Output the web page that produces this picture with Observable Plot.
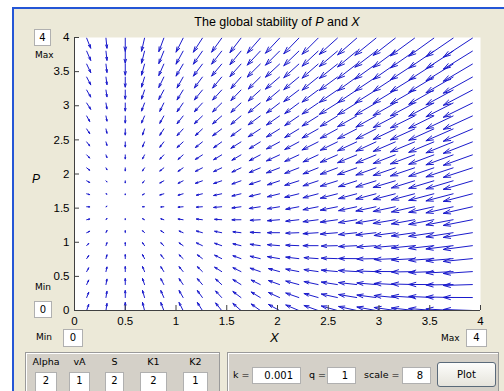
<!DOCTYPE html>
<html><head><meta charset="utf-8">
<script src="https://cdn.jsdelivr.net/npm/d3@7"></script>
<script src="https://cdn.jsdelivr.net/npm/@observablehq/plot@0.6"></script>
<style>
html,body{margin:0;padding:0;background:#fff;}
body{width:504px;height:391px;overflow:hidden;position:relative;font-family:"Liberation Sans",Arial,sans-serif;}
#fig{position:absolute;left:12px;top:7px;width:492px;height:384px;background:#ECE9D8;border-left:2px solid #2456d6;border-top:2px solid #2456d6;box-sizing:border-box;}
#chart{position:absolute;left:0;top:0;}
.lbl{position:absolute;font-size:10px;color:#000;white-space:nowrap;font-family:"DejaVu Sans",Arial,sans-serif;}
.box{position:absolute;background:#fff;border:1px solid #b0b0b0;box-sizing:border-box;font-size:10px;line-height:15px;text-align:center;font-family:"DejaVu Sans",Arial,sans-serif;}
.panel{position:absolute;background:#d4d0c8;border:1px solid #9a9a9a;box-shadow:inset 1px 1px 0 #fff;box-sizing:border-box;}
.btn{position:absolute;background:linear-gradient(#fdfdfb,#e6e4dc);border:1px solid #5a6a7a;border-radius:3px;box-sizing:border-box;font-size:10px;text-align:center;font-family:"DejaVu Sans",Arial,sans-serif;}
.ttl{position:absolute;font-size:12.5px;white-space:nowrap;transform:translateX(-50%);}
.ax{position:absolute;font-size:13px;font-style:italic;}
</style></head>
<body>
<div id="fig"></div>
<div id="chart"></div>
<script>
// grid of the quiver plot
const Xgrid = [0.12,0.31,0.50,0.69,0.88,1.07,1.26,1.45,1.64,1.83,2.02,2.21,2.40,2.59,2.78,2.97,3.16,3.35,3.54,3.73,3.92];
const Pgrid = [0,0.19,0.38,0.57,0.76,0.95,1.14,1.33,1.52,1.71,1.90,2.09,2.28,2.47,2.66,2.85,3.04,3.23,3.42,3.61,3.80,3.99];
// dX/dt read per row (row = P value)
const dX = [
[2,1,0,-2,-3,-4,-5,-6,-8,-9,-11,-13,-14,-16,-18,-19,-21,-23,-25,-27,-29],
[2,1,0,-2,-3,-4,-5,-6,-8,-9,-11,-13,-14,-16,-18,-19,-21,-23,-25,-27,-29],
[2,1,0,-2,-3,-4,-5,-6,-8,-9,-11,-13,-14,-16,-18,-19,-21,-23,-25,-27,-29],
[2,1,0,-2,-3,-4,-5,-7,-8,-10,-11,-13,-14,-16,-18,-19,-21,-23,-25,-27,-29],
[2,1,0,-2,-3,-4,-5,-7,-8,-10,-12,-13,-14,-16,-18,-19,-21,-23,-25,-27,-29],
[2,1,0,-2,-3,-4,-6,-7,-8,-10,-12,-13,-15,-16,-18,-19,-21,-23,-25,-27,-29],
[3,1,0,-2,-3,-4,-6,-7,-8,-10,-12,-13,-15,-17,-18,-20,-21,-23,-25,-27,-29],
[3,1,0,-2,-3,-5,-6,-7,-9,-10,-12,-13,-15,-17,-18,-20,-22,-23,-25,-27,-29],
[3,1,0,-2,-3,-5,-6,-8,-9,-11,-12,-13,-15,-17,-18,-20,-22,-23,-25,-27,-29],
[3,1,0,-2,-4,-5,-6,-8,-9,-11,-12,-14,-15,-17,-18,-20,-22,-23,-25,-27,-29],
[3,1,0,-2,-4,-5,-7,-8,-9,-11,-12,-14,-15,-17,-18,-20,-22,-23,-25,-27,-29],
[3,1,0,-2,-4,-5,-7,-8,-9,-11,-13,-14,-15,-17,-19,-20,-22,-24,-25,-27,-29],
[3,1,0,-2,-4,-5,-7,-8,-9,-11,-13,-14,-15,-17,-19,-20,-22,-24,-25,-27,-29],
[3,1,0,-2,-4,-6,-7,-8,-10,-11,-13,-14,-16,-17,-19,-20,-22,-24,-25,-27,-29],
[3,1,0,-2,-4,-6,-7,-9,-10,-12,-13,-14,-16,-17,-19,-20,-22,-24,-25,-27,-29],
[3,1,0,-3,-4,-6,-8,-9,-10,-12,-13,-14,-16,-17,-19,-20,-22,-24,-25,-27,-29],
[4,1,0,-3,-4,-6,-8,-9,-10,-12,-13,-14,-16,-18,-19,-21,-22,-24,-25,-27,-29],
[4,1,0,-3,-5,-6,-8,-9,-10,-12,-13,-15,-16,-18,-19,-21,-22,-24,-25,-27,-29],
[4,1,0,-3,-5,-6,-8,-9,-10,-12,-14,-15,-16,-18,-19,-21,-22,-24,-25,-27,-29],
[4,1,0,-3,-5,-7,-9,-10,-11,-13,-14,-15,-16,-18,-19,-21,-22,-24,-25,-27,-29],
[4,1,0,-3,-5,-7,-9,-10,-11,-13,-14,-15,-16,-18,-19,-21,-22,-24,-25,-27,-29],
[4,1,0,-3,-5,-7,-9,-10,-11,-13,-14,-15,-16,-18,-19,-21,-22,-24,-25,-27,-29]
];
// dP/dt read per row
const dP = [
[6,7,8,8,8,8,8,7.5,7,6.5,6,5.5,5,4.5,4,3.5,3,2.5,2,1.5,1],
[5.2,6.2,7,7,7,7,7,6.5,6,5.5,5,4.5,4,3.5,3,2.5,2,1.5,1.1,0.6,0.1],
[4.5,5.4,6,6,6,5.9,5.9,5.5,5,4.5,4,3.5,3,2.5,2,1.6,1.1,0.6,0.1,-0.4,-0.9],
[3.7,4.6,5,5,4.9,4.9,4.9,4.4,3.9,3.4,3,2.5,2,1.5,1.1,0.6,0.1,-0.4,-0.9,-1.4,-1.9],
[3,3.8,4,4,3.9,3.8,3.8,3.4,2.9,2.4,2,1.5,1,0.5,0.1,-0.4,-0.9,-1.3,-1.8,-2.3,-2.8],
[2.2,3,3,3,2.9,2.8,2.8,2.4,1.9,1.4,1,0.5,0,-0.4,-0.9,-1.4,-1.8,-2.3,-2.8,-3.3,-3.8],
[1.4,2.2,2,2,1.9,1.7,1.7,1.4,0.9,0.4,0,-0.5,-1,-1.4,-1.9,-2.3,-2.8,-3.3,-3.7,-4.2,-4.7],
[0.7,1.3,1,1,0.9,0.7,0.7,0.4,-0.1,-0.6,-1,-1.5,-2,-2.4,-2.9,-3.3,-3.7,-4.2,-4.7,-5.2,-5.7],
[-0.1,0.5,0,0,-0.2,-0.4,-0.4,-0.7,-1.2,-1.7,-2,-2.5,-3,-3.4,-3.9,-4.3,-4.7,-5.2,-5.6,-6.1,-6.6],
[-0.8,-0.3,-1,-1,-1.2,-1.4,-1.4,-1.7,-2.2,-2.7,-3,-3.5,-4,-4.4,-4.8,-5.3,-5.7,-6.1,-6.6,-7.1,-7.6],
[-1.6,-1.1,-2,-2,-2.2,-2.5,-2.5,-2.7,-3.2,-3.7,-4,-4.5,-5,-5.4,-5.8,-6.2,-6.6,-7.1,-7.5,-8,-8.5],
[-2.4,-1.9,-3,-3,-3.2,-3.5,-3.5,-3.7,-4.2,-4.7,-5,-5.5,-6,-6.4,-6.8,-7.2,-7.6,-8.1,-8.5,-9,-9.5],
[-3.1,-2.7,-4,-4,-4.3,-4.5,-4.5,-4.8,-5.3,-5.8,-6,-6.5,-7,-7.4,-7.8,-8.2,-8.6,-9,-9.4,-9.9,-10.4],
[-3.9,-3.5,-5,-5,-5.3,-5.6,-5.6,-5.8,-6.3,-6.8,-7,-7.5,-8,-8.3,-8.8,-9.2,-9.5,-10,-10.4,-10.9,-11.4],
[-4.6,-4.3,-6,-6,-6.3,-6.6,-6.6,-6.8,-7.3,-7.8,-8,-8.5,-9,-9.3,-9.8,-10.1,-10.5,-10.9,-11.3,-11.8,-12.3],
[-5.4,-5.1,-7,-7,-7.3,-7.7,-7.7,-7.8,-8.3,-8.8,-9,-9.5,-10,-10.3,-10.7,-11.1,-11.5,-11.9,-12.3,-12.8,-13.3],
[-6.2,-5.9,-8,-8,-8.3,-8.7,-8.7,-8.8,-9.3,-9.8,-10,-10.5,-11,-11.3,-11.7,-12.1,-12.4,-12.9,-13.2,-13.7,-14.2],
[-6.9,-6.7,-9,-9,-9.4,-9.8,-9.8,-9.9,-10.4,-10.9,-11,-11.5,-12,-12.3,-12.7,-13.1,-13.4,-13.8,-14.2,-14.7,-15.2],
[-7.7,-7.5,-10,-10,-10.4,-10.8,-10.8,-10.9,-11.4,-11.9,-12,-12.5,-13,-13.3,-13.7,-14,-14.4,-14.8,-15.1,-15.6,-16.1],
[-8.4,-8.3,-11,-11,-11.4,-11.9,-11.9,-11.9,-12.4,-12.9,-13,-13.5,-14,-14.3,-14.7,-15,-15.3,-15.7,-16.1,-16.6,-17.1],
[-9.2,-9.2,-12,-12,-12.4,-12.9,-12.9,-12.9,-13.4,-13.9,-14,-14.5,-15,-15.3,-15.7,-16,-16.3,-16.7,-17,-17.5,-18],
[-10,-10,-13,-13,-13.4,-13.9,-13.9,-13.9,-14.4,-14.9,-15,-15.5,-16,-16.2,-16.6,-17,-17.2,-17.6,-18,-18.5,-19]
];
const xTicks = [0,0.5,1,1.5,2,2.5,3,3.5,4];
const xTickLabels = ["0","0.5","1","1.5","2","2.5","3","3.5","4"];
const yTicks = [0,0.5,1,1.5,2,2.5,3,3.5,4];
const yTickLabels = ["0","0.5","1","1.5","2","2.5","3","3.5","4"];
const titleParts = ["The global stability of ", "P", " and ", "X"];
const xLabel = "X", yLabel = "P";
const limits = {xMin:"0", xMax:"4", yMin:"0", yMax:"4"};
const paramNames = ["Alpha","vA","S","K1","K2"];
const paramValues = ["2","1","2","2","1"];
const runNames = ["k =","q =","scale ="];
const runValues = ["0.001","1","8"];
const buttonLabel = "Plot";

// quiver arrow scale (data units per rate unit)
const quiverScale = {x: 0.00985, y: 0.01465};

const arrows = [];
Pgrid.forEach((p, j) => Xgrid.forEach((x, i) => {
  arrows.push({x, y: p, x2: x + dX[j][i]*quiverScale.x, y2: p + dP[j][i]*quiverScale.y});
}));

const chart = Plot.plot({
  width: 504, height: 391,
  marginLeft: 74, marginRight: 24, marginTop: 37, marginBottom: 81,
  x: {domain: [0, 4]},
  y: {domain: [0, 4]},
  style: {background: "transparent", fontFamily: "Liberation Sans, Arial, sans-serif", fontSize: "11.5px", color: "#000"},
  marks: [
    Plot.frame({fill: "white", stroke: null}),
    Plot.arrow(arrows, {x1: "x", y1: "y", x2: "x2", y2: "y2", stroke: "#1a1acc", strokeWidth: 1, headLength: 11, headAngle: 34, clip: true}),
    Plot.ruleX([0], {stroke: "#404040"}),
    Plot.ruleY([0], {stroke: "#404040"}),
    Plot.axisX({ticks: xTicks, tickFormat: d => xTickLabels[xTicks.indexOf(d)], tickSize: -5, tickPadding: 11, stroke: "#404040", label: null}),
    Plot.axisY({ticks: yTicks, tickFormat: d => yTickLabels[yTicks.indexOf(d)], tickSize: -5, tickPadding: 10, stroke: "#404040", label: null})
  ]
});
document.getElementById("chart").appendChild(chart);

function add(cls, left, top, w, h, html, extra) {
  const d = document.createElement("div");
  d.className = cls;
  d.style.left = left + "px"; d.style.top = top + "px";
  if (w != null) d.style.width = w + "px";
  if (h != null) d.style.height = h + "px";
  d.innerHTML = html;
  if (extra) Object.assign(d.style, extra);
  document.body.appendChild(d);
  return d;
}
// title and axis labels
add("ttl", 277, 15, null, null, titleParts[0] + "<i>" + titleParts[1] + "</i>" + titleParts[2] + "<i>" + titleParts[3] + "</i>");
add("ax", 270, 330, null, null, xLabel);
add("ax", 32, 172, null, null, yLabel, {fontSize: "12px"});
// limit boxes
add("box", 34, 29, 17, 17, limits.yMax);
add("lbl", 35, 50, null, null, "Max", {fontSize: "9px"});
add("lbl", 35, 282, null, null, "Min", {fontSize: "9px"});
add("box", 34, 301, 18, 17, limits.yMin);
add("lbl", 36, 332, null, null, "Min", {fontSize: "9px"});
add("box", 63, 329, 20, 18, limits.xMin);
add("lbl", 441, 333, null, null, "Max", {fontSize: "9px"});
add("box", 466, 329, 21, 18, limits.xMax);
// parameter panels
add("panel", 25, 352, 195, 45, "");
const pLeft = [35, 69, 105, 140, 183], pW = [22, 21, 19, 27, 25];
paramNames.forEach((n, i) => {
  add("lbl", pLeft[i] + pW[i]/2, 356, null, null, n, {transform: "translateX(-50%)", fontSize: "9.5px"});
  add("box", pLeft[i], 372, pW[i], 20, paramValues[i]);
});
add("panel", 227, 352, 272, 45, "");
const rLbl = [233, 309, 364], rBox = [252, 327, 402], rBoxW = [49, 29, 29];
runNames.forEach((n, i) => {
  add("lbl", rLbl[i], 369, null, null, n, {fontSize: "9.5px"});
  add("box", rBox[i], 367, rBoxW[i], 17, runValues[i], {textAlign: "right", paddingRight: "7px"});
});
add("btn", 437, 362, 59, 25, buttonLabel, {lineHeight: "23px"});
</script>
</body></html>
